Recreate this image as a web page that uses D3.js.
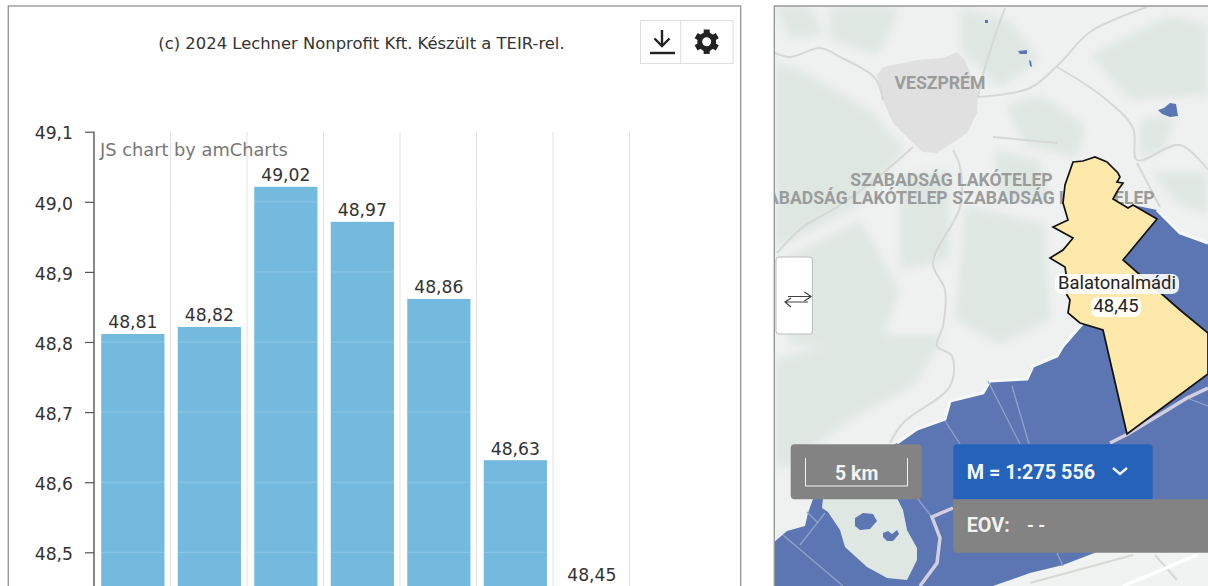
<!DOCTYPE html>
<html><head><meta charset="utf-8">
<script src="https://cdn.jsdelivr.net/npm/d3@7"></script>
<style>
html,body{margin:0;padding:0;background:#fff;overflow:hidden}
svg{display:block}
text{font-family:Verdana,"DejaVu Sans",sans-serif}
.m{font-family:Roboto,sans-serif}
</style></head><body><svg id="c" width="1208" height="586"></svg>
<script>
// ---- chart data
const categories = ["a","b","c","d","e","f","Balatonalmádi"];
const values = [48.81,48.82,49.02,48.97,48.86,48.63,48.45];
const yTicks = [48.5,48.6,48.7,48.8,48.9,49.0,49.1];
const creditText = "(c) 2024 Lechner Nonprofit Kft. Készült a TEIR-rel.";
const watermark = "JS chart by amCharts";
const fmt = v => v.toFixed(2).replace(".",",");
const fmt1 = v => v.toFixed(1).replace(".",",");

// ---- map shapes, in map-panel coordinates
const lake = [[1133,205],[1157,210],[1167,220],[1180,233],[1208,243],[1208,540],[1097,552],[1063,565],[1030,573],[993,586],[773,586],[773,543],[787,531],[805,526],[808,513],[813,499],[850,470],[897,443],[917,429],[945,419],[950,401],[983,393],[990,381],[1027,379],[1033,366],[1057,356],[1063,346],[1083,323],[1103,330],[1123,260]];
const shore = [[1083,323],[1063,346],[1057,356],[1033,366],[1027,379],[990,381],[983,393],[950,401],[945,419],[917,429],[897,443]];
const shoreEast = [[1157,210],[1167,220],[1180,233],[1208,243]];
const peninsula = [[823,498],[822,508],[828,512],[840,530],[845,547],[867,567],[887,578],[907,580],[917,560],[917,548],[907,530],[903,510],[897,498],[860,470]];
const peninsulaLakes = [[[855,518],[863,513],[873,514],[877,521],[870,529],[860,530],[855,526]],[[883,533],[888,531],[892,534],[897,530],[899,534],[893,541],[887,541],[883,537]]];
const town = [[877,75],[883,67],[917,60],[943,58],[957,52],[965,60],[978,93],[977,113],[967,133],[937,153],[923,152],[913,143],[893,123],[883,100]];
const almadi = [[1073,162],[1083,161],[1095,157],[1107,162],[1118,173],[1120,177],[1117,182],[1123,183],[1118,190],[1113,199],[1128,208],[1133,205],[1157,219],[1123,260],[1180,310],[1208,333],[1208,374],[1127,434],[1103,330],[1080,323],[1068,313],[1070,300],[1067,295],[1067,280],[1065,267],[1050,258],[1063,250],[1073,238],[1053,227],[1068,220],[1063,203],[1065,185]];
const roads = [[[773,52],[790,57],[820,48],[840,57],[875,78],[883,100]],[[913,147],[883,173],[837,207],[803,227],[777,253]],[[978,97],[1030,88],[1060,63],[1090,32],[1147,7]],[[978,97],[983,75],[997,30],[1005,8]],[[1057,67],[1103,97],[1133,128],[1137,160],[1180,145],[1208,170]],[[1137,163],[1160,207]],[[953,150],[960,167],[960,207],[933,263],[945,290],[943,326],[937,346],[952,356],[950,386],[903,423],[890,443]],[[993,137],[1057,143]],[[1030,583],[1133,555]],[[1155,555],[1177,580]]];
const whiteRoads = [[[1123,586],[1197,555]]];
const forests = [[[775,62],[800,70],[870,110],[905,150],[860,205],[775,250]],[[830,6],[900,6],[880,55],[830,40]],[[960,8],[1010,20],[1040,60],[1000,88],[960,50]],[[1005,105],[1040,95],[1085,125],[1078,158],[1025,145]],[[1090,55],[1170,15],[1208,25],[1208,95],[1130,100]],[[778,262],[860,220],[900,290],[880,345],[790,345]],[[900,175],[950,170],[950,260],[900,270]],[[965,205],[1045,225],[1050,320],[1000,345],[955,320]],[[775,360],[860,335],[945,335],[915,385],[850,420],[790,465],[775,470]],[[1140,120],[1175,115],[1165,150],[1140,158]],[[1150,172],[1208,172],[1208,215],[1180,205]],[[775,6],[810,6],[825,35],[790,40]],[[995,150],[1040,160],[1050,200],[1000,200]]];
const lakeLines = [[[945,421],[960,444]],[[988,381],[1020,444]],[[1012,386],[1029,444]],[[783,535],[843,586]],[[800,545],[825,513]],[[807,512],[818,523]],[[1187,398],[1208,406]],[[1057,553],[1063,566]],[[917,498],[932,517]]];
const pinkLines = [[[1208,388],[1187,398],[1128,434],[1110,443]],[[953,508],[932,517],[940,538],[937,563],[920,586]]];
const landSouth = [[993,586],[1030,573],[1063,565],[1097,552],[1208,540],[1208,586]];
const blueSpots = [[[1018,51],[1027,50],[1027,54],[1020,54]],[[1029,60],[1031,61],[1032,67],[1030,66]],[[1158,110],[1164,108],[1170,103],[1176,104],[1178,116],[1170,117],[1162,114]],[[985,20],[988,20],[988,23],[985,23]]];
const placeNames = ["VESZPRÉM","SZABADSÁG LAKÓTELEP"];
const selectedName = "Balatonalmádi";
const selectedValue = "48,45";

const svg = d3.select("#c");
// chart panel
svg.append("rect").attr("x",8.3).attr("y",6).attr("width",732.4).attr("height",600).attr("fill","#fff").attr("stroke","#999").attr("stroke-width",1.4);

const x = d3.scaleBand().domain(categories).range([94.6,630.1]).paddingInner(0.2).paddingOuter(0.1);
const y = d3.scaleLinear().domain([48.5,49.1]).range([552.3,131.7]);
const step = (629.5-94)/categories.length;
const bandEdges = categories.map((c,i)=>94+(i+1)*step);

svg.append("g").selectAll("line").data(bandEdges).join("line")
  .attr("x1",d=>d).attr("x2",d=>d).attr("y1",y(49.1)).attr("y2",586).attr("stroke","#e2e2e2").attr("stroke-width",1);

svg.append("g").selectAll("rect").data(values).join("rect")
  .attr("x",(d,i)=>x(categories[i])).attr("width",x.bandwidth())
  .attr("y",d=>y(d)).attr("height",d=>Math.max(0,620-y(d))).attr("fill","#74badf").attr("stroke","#74badf").attr("stroke-width",2);

svg.append("g").selectAll("line").data(yTicks).join("line")
  .attr("x1",94).attr("x2",629.5).attr("y1",d=>y(d)).attr("y2",d=>y(d)).attr("stroke","#fff").attr("stroke-opacity",0.18);

svg.append("g").selectAll("text").data(values).join("text")
  .attr("x",(d,i)=>x(categories[i])+x.bandwidth()/2).attr("y",d=>y(d)-6.5)
  .attr("text-anchor","middle").attr("font-size",17.2).attr("fill","#333").text(fmt);

const axis = d3.axisLeft(y).tickValues(yTicks).tickFormat(fmt1).tickSize(9).tickPadding(12);
const gA = svg.append("g").attr("transform","translate(94,0)").call(axis);
gA.select(".domain").attr("d",`M0,${y(49.1)}V620`).attr("stroke","#555").attr("stroke-width",1.4);
gA.selectAll(".tick line").attr("stroke","#555").attr("stroke-width",1.2);
gA.selectAll(".tick text").attr("font-size",17.2).attr("fill","#333").attr("dy","0.42em").style("font-family",'Verdana,"DejaVu Sans",sans-serif');

svg.append("text").attr("x",100).attr("y",156).attr("font-size",17.8).attr("fill","#777").text(watermark);
svg.append("text").attr("x",361.5).attr("y",49).attr("text-anchor","middle").attr("font-size",16.4).attr("fill","#333").text(creditText);

// toolbar
svg.append("rect").attr("x",640.5).attr("y",20.5).attr("width",92.5).attr("height",43).attr("fill","#fff").attr("stroke","#ddd");
svg.append("line").attr("x1",680.7).attr("x2",680.7).attr("y1",20).attr("y2",63).attr("stroke","#ddd");
svg.append("path").attr("d","M662,30V46M654.5,38.5L662,46L669.5,38.5").attr("fill","none").attr("stroke","#222").attr("stroke-width",2.4);
svg.append("line").attr("x1",650).attr("x2",675).attr("y1",53).attr("y2",53).attr("stroke","#222").attr("stroke-width",2.4);
svg.append("circle").attr("cx",706.7).attr("cy",41.7).attr("r",7).attr("fill","none").attr("stroke","#222").attr("stroke-width",5);
d3.range(0,360,60).forEach(a=>svg.append("rect").attr("x",703.7).attr("y",29.5).attr("width",6).attr("height",5).attr("fill","#222").attr("transform",`rotate(${a} 706.7 41.7)`));

// map panel
const line = d3.line().curve(d3.curveCatmullRom.alpha(0.5));
const poly = d3.line().curve(d3.curveLinearClosed);
const map = svg.append("g");
const defs = svg.append("defs");
defs.append("clipPath").attr("id","mp").append("rect").attr("x",775).attr("y",6).attr("width",433).attr("height",580);
defs.append("filter").attr("id","bl").attr("x","-20%").attr("y","-20%").attr("width","140%").attr("height","140%").append("feGaussianBlur").attr("stdDeviation",5);
map.attr("clip-path","url(#mp)");
map.append("rect").attr("x",775).attr("y",6).attr("width",433).attr("height",580).attr("fill","#eff1f0");
map.append("g").attr("filter","url(#bl)").selectAll("path").data(forests).join("path").attr("d",poly).attr("fill","#dfe7e3");
map.append("path").attr("d",poly(town)).attr("fill","#e0e0e0");
map.append("g").selectAll("path").data(roads).join("path").attr("d",line).attr("fill","none").attr("stroke","#d5d8d7").attr("stroke-width",2);
map.append("path").attr("d",poly(landSouth)).attr("fill","#f1f2f2");
map.append("g").selectAll("path").data(roads.slice(-2)).join("path").attr("d",line).attr("fill","none").attr("stroke","#d8d8d4").attr("stroke-width",2);
map.append("g").selectAll("path").data(whiteRoads).join("path").attr("d",line).attr("fill","none").attr("stroke","#fff").attr("stroke-width",3.5);
map.append("path").attr("d",poly(lake)).attr("fill","#5b76b3");
map.append("g").selectAll("path").data([shore,shoreEast]).join("path").attr("d",d3.line()).attr("fill","none").attr("stroke","#f6f7f7").attr("stroke-width",3);
map.append("path").attr("d",poly(peninsula)).attr("fill","#dfe7e3");
map.append("g").selectAll("path").data(peninsulaLakes).join("path").attr("d",poly).attr("fill","#5b76b3");
map.append("g").selectAll("path").data(blueSpots).join("path").attr("d",poly).attr("fill","#5b76b3");
map.append("g").selectAll("path").data(lakeLines).join("path").attr("d",d3.line()).attr("fill","none").attr("stroke","#8fa3cc").attr("stroke-width",1.3);
map.append("g").selectAll("path").data(pinkLines).join("path").attr("d",d3.line()).attr("fill","none").attr("stroke","#d4cfe0").attr("stroke-width",3.5);

const labels=[[placeNames[0],940,89],[placeNames[1],951.5,186],[placeNames[1],846.5,204],[placeNames[1],1053.5,204]];
map.append("g").selectAll("text").data(labels).join("text").attr("class","m").attr("x",d=>d[1]).attr("y",d=>d[2]).attr("text-anchor","middle").attr("font-size",17.6).attr("font-weight",700).attr("fill","#9a9c9b").text(d=>d[0]);

map.append("path").attr("d",poly(almadi)).attr("fill","#fee9ab").attr("stroke","#111").attr("stroke-width",1.7);

[[selectedName,1117,289,124],[selectedValue,1116,312,50]].forEach(l=>{
  map.append("rect").attr("x",l[1]-l[3]/2).attr("y",l[2]-15).attr("width",l[3]).attr("height",20).attr("rx",7).attr("fill","#fff").attr("fill-opacity",.9);
  map.append("text").attr("class","m").attr("x",l[1]).attr("y",l[2]).attr("text-anchor","middle").attr("font-size",18.4).attr("fill","#222").text(l[0]);
});
svg.append("path").attr("d","M774.3,586V6H1208").attr("fill","none").attr("stroke","#999").attr("stroke-width",1.4);

// controls
const c = svg.append("g");
c.append("rect").attr("x",776).attr("y",257).attr("width",36.5).attr("height",77).attr("rx",3).attr("fill","#fff").attr("stroke","#bbb");
c.append("path").attr("d","M788,296.5H811M804.5,292L811,296.5L804.5,301M808,302H785M791,298L785,302L791,307").attr("fill","none").attr("stroke","#444").attr("stroke-width",1.2);
c.append("rect").attr("x",790.7).attr("y",444.3).attr("width",131).attr("height",55).attr("rx",4).attr("fill","#838383");
c.append("path").attr("d","M805.5,458V486H907.5V458").attr("fill","none").attr("stroke","#f3f3f3").attr("stroke-width",1);
c.append("text").attr("class","m").attr("x",856.7).attr("y",480).attr("text-anchor","middle").attr("font-size",19.5).attr("font-weight",700).attr("fill","#f3f3f3").text("5 km");
c.append("path").attr("d","M953.3,499.3V448.3a4,4 0 0 1 4,-4H1148.7a4,4 0 0 1 4,4V499.3Z").attr("fill","#2563bb");
c.append("text").attr("class","m").attr("x",966.7).attr("y",478.7).attr("font-size",19.8).attr("font-weight",700).attr("fill","#f4f6fa").text("M = 1:275 556");
c.append("path").attr("d","M1113,468L1120,474L1127,468").attr("fill","none").attr("stroke","#f4f6fa").attr("stroke-width",2.4);
c.append("path").attr("d","M953.3,499.3H1208V552.7H957.3a4,4 0 0 1 -4,-4Z").attr("fill","#838383");
c.append("text").attr("class","m").attr("x",966.7).attr("y",532).attr("font-size",19.8).attr("font-weight",700).attr("fill","#f3f3f3").text("EOV:");
c.append("text").attr("class","m").attr("x",1027).attr("y",532).attr("font-size",17.5).attr("font-weight",700).attr("fill","#f3f3f3").text("- -");
</script></body></html>
